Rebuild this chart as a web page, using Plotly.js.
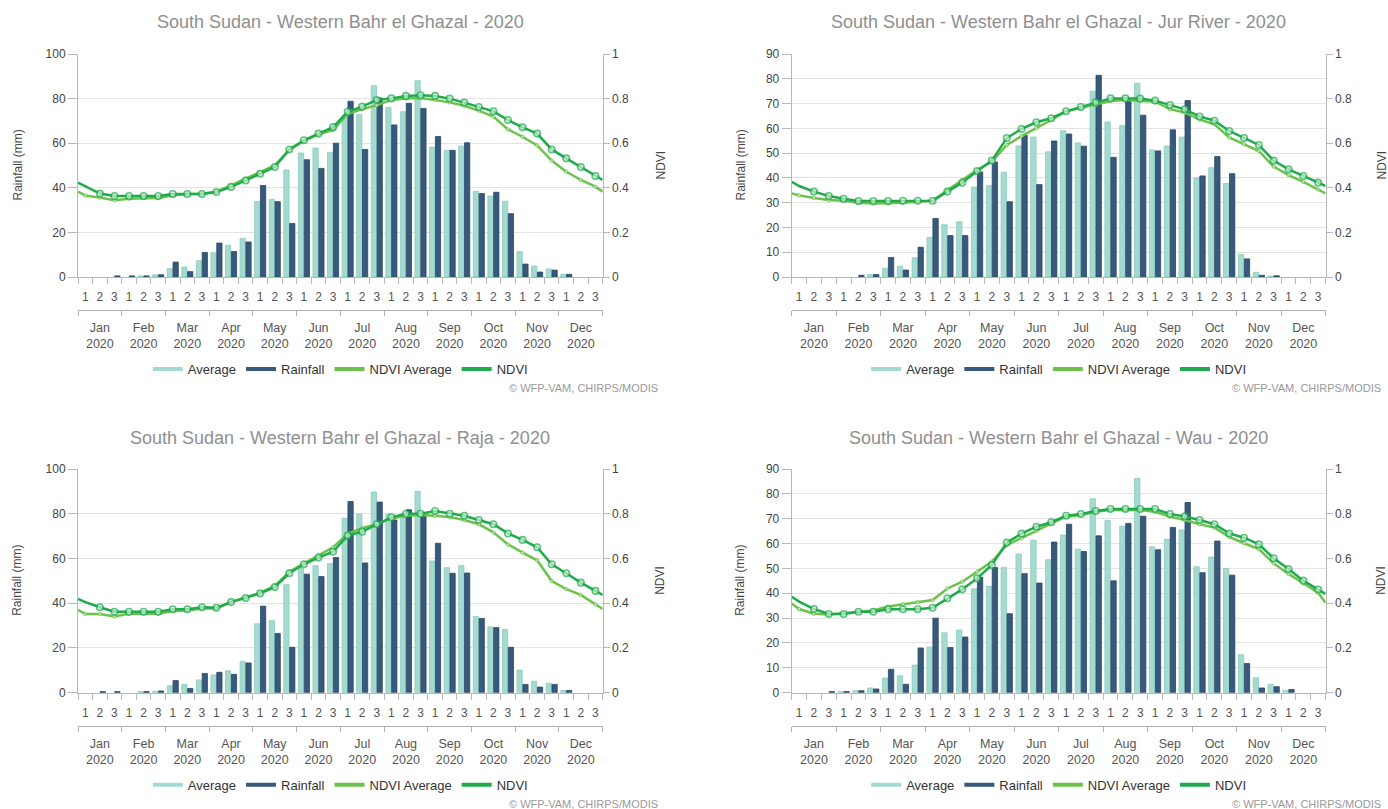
<!DOCTYPE html>
<html>
<head>
<meta charset="utf-8">
<script src="https://cdn.plot.ly/plotly-3.0.1.min.js"></script>
<style>
  html, body { margin: 0; padding: 0; background: #ffffff; }
  #chart { width: 1388px; height: 809px; }
</style>
</head>
<body>
<div id="chart"></div>
<script>
// ---- Labels ----
const months = ['Jan', 'Feb', 'Mar', 'Apr', 'May', 'Jun', 'Jul', 'Aug', 'Sep', 'Oct', 'Nov', 'Dec'];
const year = '2020';
const dekadLabels = ['1', '2', '3'];
const seriesNames = ['Average', 'Rainfall', 'NDVI Average', 'NDVI'];
const creditText = '© WFP-VAM, CHIRPS/MODIS';
const rainTitle = 'Rainfall (mm)';
const ndviTitle = 'NDVI';

const titleA = 'South Sudan - Western Bahr el Ghazal - 2020';
const titleB = 'South Sudan - Western Bahr el Ghazal - Jur River - 2020';
const titleC = 'South Sudan - Western Bahr el Ghazal - Raja - 2020';
const titleD = 'South Sudan - Western Bahr el Ghazal - Wau - 2020';

// ---- Rainfall per dekad (mm), Jan 1 .. Dec 3 ----
const avgA  = [0, 0, 0, 0, 0.5, 1, 3.7, 4.5, 7.3, 10.9, 14.2, 17.3, 33.8, 34.8, 48, 55.6, 57.8, 55.9,
               72.5, 72.8, 85.8, 76, 74.1, 88, 58.3, 56.8, 58.7, 38.4, 36.3, 34, 11.4, 4.9, 3.6, 1.2, 0, 0];
const rainA = [0, 0, 0.5, 0.5, 0.5, 1, 6.7, 2.4, 11, 15.2, 11.4, 15.7, 41, 33.8, 24, 52.6, 48.7, 60,
               78.8, 57.2, 80.3, 68.2, 77.9, 75.6, 63, 56.8, 60.2, 37.4, 38, 28.4, 5.8, 2.2, 3.1, 1.2, 0, 0];

const avgB  = [0, 0, 0, 0, 0, 1, 3.5, 4.3, 7.8, 16, 21.1, 22.3, 36.3, 36.9, 42.3, 52.9, 56.5, 50.5,
               59, 54.1, 75, 62.6, 61.1, 78.2, 51.3, 52.9, 56.5, 40, 44.1, 37.8, 9.2, 1.9, 0.4, 0, 0, 0];
const rainB = [0, 0, 0, 0, 0.7, 1, 7.9, 2.8, 12, 23.6, 16.7, 16.7, 42.4, 46.4, 30.4, 57.2, 37.3, 54.9,
               57.7, 52.8, 81.4, 48.3, 72.1, 65.3, 50.9, 59.4, 71.2, 40.8, 48.6, 41.7, 7.3, 0.7, 0.5, 0, 0, 0];

const avgC  = [0, 0, 0, 0, 0.5, 0.6, 3.1, 3.7, 5.7, 7.9, 9.8, 14, 30.8, 32.2, 48.3, 55.6, 56.8, 57.7,
               78, 79.9, 89.7, 79.9, 78.5, 90, 58.9, 55.9, 56.9, 34.1, 29.4, 28.2, 10.1, 5.1, 4.2, 1, 0, 0];
const rainC = [0, 0.5, 0.5, 0, 0.5, 0.8, 5.4, 1.9, 8.6, 9.1, 8.2, 13.3, 38.7, 26.5, 20.3, 53, 51.9, 60.4,
               85.5, 58, 85.2, 77.2, 81.8, 79, 66.8, 53.4, 53.5, 33.2, 29.1, 20.3, 3.7, 2.5, 3.7, 1, 0, 0];

const avgD  = [0, 0, 0, 0.4, 0.8, 1.9, 5.9, 6.8, 11.1, 18.4, 24.1, 25.2, 41.8, 42.8, 50.4, 55.8, 61.3, 53.5,
               63.4, 57.8, 78, 69.3, 67, 86.2, 58.7, 61.7, 65.5, 50.7, 54.6, 50, 15.3, 6, 3.4, 0.9, 0, 0];
const rainD = [0, 0, 0.5, 0.5, 0.8, 1.5, 9.4, 3.4, 18, 30, 18.2, 22.4, 46.5, 50.4, 31.8, 47.9, 44.1, 60.6,
               67.8, 56.8, 63.1, 45, 68.1, 71, 57.5, 66.5, 76.5, 48.3, 61, 47.3, 11.7, 1.9, 2.4, 1.3, 0, 0];

// ---- NDVI: value at the left plot edge, Jan 1 .. Dec 3, value at the right plot edge ----
const ndviA    = [0.423, 0.407, 0.374, 0.363, 0.363, 0.363, 0.363, 0.372, 0.372, 0.372, 0.381, 0.404, 0.433,
                  0.463, 0.493, 0.572, 0.613, 0.643, 0.672, 0.741, 0.764, 0.794, 0.801, 0.812, 0.815,
                  0.812, 0.8, 0.782, 0.762, 0.743, 0.704, 0.671, 0.643, 0.572, 0.532, 0.493, 0.453, 0.435];
const ndviAvgA = [0.383, 0.365, 0.356, 0.344, 0.351, 0.354, 0.354, 0.365, 0.372, 0.372, 0.383, 0.411, 0.441,
                  0.471, 0.501, 0.57, 0.61, 0.64, 0.659, 0.731, 0.753, 0.77, 0.794, 0.8, 0.803,
                  0.794, 0.783, 0.768, 0.746, 0.719, 0.662, 0.629, 0.59, 0.522, 0.472, 0.435, 0.405, 0.383];

const ndviB    = [0.427, 0.408, 0.383, 0.363, 0.351, 0.341, 0.341, 0.341, 0.342, 0.342, 0.342, 0.383, 0.423,
                  0.475, 0.522, 0.623, 0.664, 0.694, 0.712, 0.743, 0.762, 0.783, 0.801, 0.801, 0.8,
                  0.791, 0.771, 0.752, 0.72, 0.701, 0.655, 0.623, 0.592, 0.522, 0.483, 0.453, 0.423, 0.408];
const ndviAvgB = [0.375, 0.366, 0.354, 0.345, 0.342, 0.333, 0.33, 0.33, 0.333, 0.338, 0.342, 0.39, 0.435,
                  0.48, 0.517, 0.592, 0.632, 0.667, 0.704, 0.743, 0.758, 0.771, 0.789, 0.794, 0.791,
                  0.786, 0.753, 0.737, 0.707, 0.685, 0.626, 0.596, 0.565, 0.495, 0.457, 0.427, 0.393, 0.375];

const ndviC    = [0.419, 0.405, 0.382, 0.362, 0.362, 0.362, 0.362, 0.373, 0.373, 0.382, 0.38, 0.405, 0.423,
                  0.444, 0.472, 0.534, 0.574, 0.604, 0.63, 0.702, 0.72, 0.753, 0.784, 0.8, 0.8,
                  0.812, 0.8, 0.791, 0.772, 0.753, 0.712, 0.683, 0.65, 0.574, 0.534, 0.492, 0.455, 0.437];
const ndviAvgC = [0.37, 0.352, 0.352, 0.341, 0.353, 0.353, 0.353, 0.365, 0.368, 0.376, 0.376, 0.405, 0.425,
                  0.447, 0.477, 0.541, 0.578, 0.615, 0.65, 0.711, 0.735, 0.754, 0.779, 0.791, 0.794,
                  0.791, 0.785, 0.772, 0.753, 0.717, 0.663, 0.626, 0.592, 0.499, 0.463, 0.437, 0.395, 0.374];

const ndviD    = [0.429, 0.407, 0.374, 0.352, 0.352, 0.362, 0.362, 0.373, 0.373, 0.373, 0.38, 0.422, 0.462,
                  0.511, 0.571, 0.671, 0.711, 0.742, 0.762, 0.791, 0.799, 0.812, 0.821, 0.821, 0.821,
                  0.821, 0.799, 0.788, 0.772, 0.753, 0.712, 0.693, 0.663, 0.601, 0.553, 0.501, 0.461, 0.441];
const ndviAvgD = [0.399, 0.374, 0.353, 0.35, 0.355, 0.362, 0.368, 0.385, 0.395, 0.405, 0.414, 0.466, 0.496,
                  0.541, 0.586, 0.66, 0.69, 0.723, 0.757, 0.787, 0.794, 0.809, 0.817, 0.817, 0.817,
                  0.809, 0.787, 0.772, 0.753, 0.738, 0.697, 0.668, 0.642, 0.578, 0.531, 0.489, 0.447, 0.402];

// ---- Page geometry (pixels) and styling ----
const W = 1388, H = 809;
const FONT = 'Liberation Sans, Arial, Helvetica, sans-serif';
const COLORS = { avg: '#a5dad1', avgEdge: '#8ccabf', rain: '#37597c', rainEdge: '#284866',
                 ndviAvg: '#6cc24a', ndvi: '#1fab4d' };

const panels = [
  { title: titleA, avg: avgA, rain: rainA, ndvi: ndviA, ndviAvg: ndviAvgA, yMax: 100, yStep: 20,
    left: 78, right: 602.7, top: 54, bottom: 277, titleY: 22, yTitleX: 17, rightTitleX: 660, creditX: 660 },
  { title: titleB, avg: avgB, rain: rainB, ndvi: ndviB, ndviAvg: ndviAvgB, yMax: 90, yStep: 10,
    left: 791.7, right: 1325.6, top: 54, bottom: 277, titleY: 22, yTitleX: 740, rightTitleX: 1381, creditX: 1383 },
  { title: titleC, avg: avgC, rain: rainC, ndvi: ndviC, ndviAvg: ndviAvgC, yMax: 100, yStep: 20,
    left: 78, right: 602.7, top: 469, bottom: 692.7, titleY: 438, yTitleX: 17, rightTitleX: 660, creditX: 660 },
  { title: titleD, avg: avgD, rain: rainD, ndvi: ndviD, ndviAvg: ndviAvgD, yMax: 90, yStep: 10,
    left: 791.7, right: 1325.6, top: 469, bottom: 692.7, titleY: 438, yTitleX: 740, rightTitleX: 1381, creditX: 1383 }
];

// Category positions: dekads sit at 0..35, plot edges at -0.5 and 35.5
const nDekads = months.length * dekadLabels.length;
const centers = Array.from({ length: nDekads }, (_, k) => k);
const lineX = [-0.5].concat(centers, [nDekads - 0.5]);
const boundaries = Array.from({ length: nDekads + 1 }, (_, k) => k - 0.5);
const monthCenters = months.map((_, m) => m * 3 + 1);
const monthBounds = Array.from({ length: months.length + 1 }, (_, m) => m * 3 - 0.5);
const dekadText = centers.map(k => dekadLabels[k % 3]);
const monthText = months.map(m => m + '<br>' + year);

const px = v => v / W;
const py = v => 1 - v / H;
// no outline on empty (zero) bars so they stay invisible
const edgeWidths = vals => vals.map(v => (v > 0 ? 0.8 : 0));

const traces = [];
const layout = {
  width: W, height: H,
  margin: { l: 0, r: 0, t: 0, b: 0 },
  paper_bgcolor: '#ffffff', plot_bgcolor: '#ffffff',
  font: { family: FONT, color: '#444444', size: 12 },
  barmode: 'group', bargap: 0.2, bargroupgap: 0.1,
  annotations: [], showlegend: true
};

panels.forEach((p, idx) => {
  const i = idx + 1;
  const xm = 'x' + i, ym = 'y' + i;
  const xMonth = 'x' + (i + 4), yN = 'y' + (i + 4);
  const legendId = i === 1 ? 'legend' : 'legend' + i;

  traces.push({
    type: 'bar', name: seriesNames[0], x: centers, y: p.avg, xaxis: xm, yaxis: ym,
    marker: { color: COLORS.avg, line: { color: COLORS.avgEdge, width: edgeWidths(p.avg) } },
    showlegend: false, hoverinfo: 'skip'
  });
  traces.push({
    type: 'bar', name: seriesNames[1], x: centers, y: p.rain, xaxis: xm, yaxis: ym,
    marker: { color: COLORS.rain, line: { color: COLORS.rainEdge, width: edgeWidths(p.rain) } },
    showlegend: false, hoverinfo: 'skip'
  });
  traces.push({
    type: 'scatter', mode: 'lines+markers', name: seriesNames[2], x: lineX, y: p.ndviAvg,
    xaxis: xm, yaxis: yN, line: { color: COLORS.ndviAvg, width: 2.5 },
    marker: { color: '#d8efcc', size: lineX.map((_, k) => (k === 0 || k === lineX.length - 1) ? 0 : 3.5),
              line: { color: COLORS.ndviAvg, width: 1 } },
    showlegend: false, hoverinfo: 'skip', cliponaxis: true
  });
  traces.push({
    type: 'scatter', mode: 'lines+markers', name: seriesNames[3], x: lineX, y: p.ndvi,
    xaxis: xm, yaxis: yN, line: { color: COLORS.ndvi, width: 2.5 },
    marker: { color: '#cdeed6', size: lineX.map((_, k) => (k <= 1 || k === lineX.length - 1) ? 0 : 6.5),
              line: { color: COLORS.ndvi, width: 1.6 } },
    showlegend: false, hoverinfo: 'skip', cliponaxis: true
  });

  // Legend entries shown as short coloured strokes
  [COLORS.avg, COLORS.rain, COLORS.ndviAvg, COLORS.ndvi].forEach((c, s) => {
    traces.push({
      type: 'scatter', mode: 'lines', name: seriesNames[s], x: [null], y: [null],
      xaxis: xMonth, yaxis: ym, line: { color: c, width: 4 }, legend: legendId, hoverinfo: 'skip'
    });
  });

  const xDomain = [px(p.left), px(p.right)];
  const yDomain = [py(p.bottom), py(p.top)];

  layout['xaxis' + (i === 1 ? '' : i)] = {
    domain: xDomain, anchor: ym, range: [-0.5, nDekads - 0.5], fixedrange: true,
    tickmode: 'array', tickvals: centers, ticktext: dekadText, ticks: '',
    ticklabelstandoff: 9, tickfont: { size: 12, color: '#555555' },
    showline: true, linecolor: '#b8b8b8', linewidth: 1, showgrid: false, zeroline: false,
    minor: { tickmode: 'array', tickvals: boundaries, ticks: 'outside', ticklen: 6,
             tickcolor: '#b8b8b8', showgrid: false }
  };
  layout['xaxis' + (i + 4)] = {
    overlaying: xm, anchor: 'free', position: py(p.bottom + 33), side: 'bottom',
    range: [-0.5, nDekads - 0.5], fixedrange: true,
    tickmode: 'array', tickvals: monthCenters, ticktext: monthText, ticks: '',
    ticklabelstandoff: 6, tickfont: { size: 12.5, color: '#555555' },
    showline: true, linecolor: '#b0b0b0', linewidth: 1, showgrid: false, zeroline: false,
    minor: { tickmode: 'array', tickvals: monthBounds, ticks: 'outside', ticklen: 5,
             tickcolor: '#b0b0b0', showgrid: false }
  };
  layout['yaxis' + (i === 1 ? '' : i)] = {
    domain: yDomain, anchor: xm, range: [0, p.yMax], dtick: p.yStep, tick0: 0, fixedrange: true,
    ticks: 'outside', ticklen: 9, tickcolor: '#b8b8b8', showline: true, linecolor: '#b8b8b8',
    showgrid: true, gridcolor: '#e4e4e4', gridwidth: 1, zeroline: false,
    tickfont: { size: 12, color: '#444444' }
  };
  layout['yaxis' + (i + 4)] = {
    overlaying: ym, anchor: xm, side: 'right', range: [0, 1], dtick: 0.2, tick0: 0, fixedrange: true,
    ticks: 'outside', ticklen: 6, tickcolor: '#b8b8b8', showline: true, linecolor: '#b8b8b8',
    showgrid: false, zeroline: false, tickfont: { size: 12, color: '#444444' }
  };

  layout[legendId] = {
    orientation: 'h', x: (xDomain[0] + xDomain[1]) / 2, xanchor: 'center',
    y: py(p.bottom + 92), yanchor: 'middle', font: { size: 13, color: '#333333' },
    itemwidth: 30, tracegroupgap: 0, bgcolor: 'rgba(0,0,0,0)', itemclick: false
  };

  const cy = (p.top + p.bottom) / 2;
  layout.annotations.push(
    { text: p.title, xref: 'paper', yref: 'paper', x: (xDomain[0] + xDomain[1]) / 2, y: py(p.titleY),
      xanchor: 'center', yanchor: 'middle', showarrow: false, font: { size: 18, color: '#8f8f8f' } },
    { text: rainTitle, xref: 'paper', yref: 'paper', x: px(p.yTitleX), y: py(cy), textangle: -90,
      xanchor: 'center', yanchor: 'middle', showarrow: false, font: { size: 12, color: '#444444' } },
    { text: ndviTitle, xref: 'paper', yref: 'paper', x: px(p.rightTitleX), y: py(cy), textangle: -90,
      xanchor: 'center', yanchor: 'middle', showarrow: false, font: { size: 12, color: '#444444' } },
    { text: creditText, xref: 'paper', yref: 'paper', x: px(p.creditX), y: py(p.bottom + 111),
      xanchor: 'right', yanchor: 'middle', showarrow: false, font: { size: 11, color: '#999999' } }
  );
});

Plotly.newPlot('chart', traces, layout, { staticPlot: true, displayModeBar: false });
</script>
</body>
</html>
